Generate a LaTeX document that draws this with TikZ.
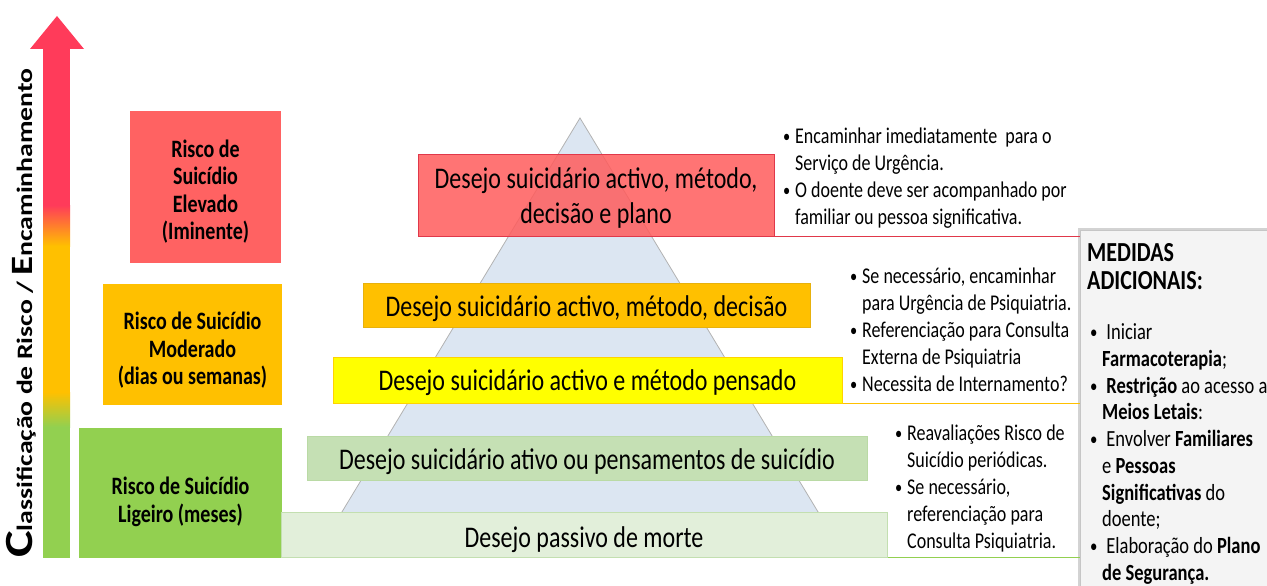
\documentclass[tikz,border=0pt]{standalone}
\usepackage{fontspec}
\usepackage{graphicx}
\setmainfont{Carlito}
\usetikzlibrary{shadows}
\definecolor{arrowred}{HTML}{FF3B5A}
\definecolor{riskred}{HTML}{FF6262}
\definecolor{riskorange}{HTML}{FFC000}
\definecolor{riskgreen}{HTML}{92D050}
\definecolor{pyrblue}{HTML}{DCE6F2}
\definecolor{boxred}{HTML}{FF5C5C}
\definecolor{redline}{HTML}{E0384A}
\definecolor{boxyellow}{HTML}{FFFF00}
\definecolor{boxgreen}{HTML}{C5E0B4}
\definecolor{boxpale}{HTML}{E2EFDA}
\definecolor{paleline}{HTML}{A9D18E}
\newcommand\tallc[2][0pt]{\raisebox{-#1}[\height][\depth]{\scalebox{1}[1.25]{\begin{tabular}{@{}c@{}}#2\end{tabular}}}}
\newcommand\talln[2][300pt]{\scalebox{1}[1.25]{\parbox[t]{#1}{#2}}}
\newcommand\itm[1][0pt]{\par\noindent\hangindent=\dimexpr#1+12pt\relax\hangafter=1\makebox[\dimexpr#1+12pt\relax][l]{\hspace{#1}\raisebox{0.8pt}{\scalebox{0.8}{\textbullet}}}}
\tikzset{
riskbox/.style={rectangle,inner sep=0pt,font=\bfseries\fontsize{20}{22}\selectfont},
layer/.style={rectangle,inner sep=0pt,line width=1pt,font=\fontsize{24}{28}\selectfont},
note/.style={anchor=base west,inner sep=0pt,font=\fontsize{18}{21.6}\selectfont},
link/.style={line width=1.2pt},
}

\begin{document}
\begin{tikzpicture}[x=1pt,y=-1pt]
\useasboundingbox (0,0) rectangle (1267,586);

\fill[arrowred] (30,49) -- (57,16) -- (84,49) -- cycle;
\fill[arrowred] (43,48) rectangle (70,205);
\shade[top color=arrowred,middle color=orange!80!red,bottom color=riskorange] (43,205) rectangle (70,246);
\fill[riskorange] (43,245.5) rectangle (70,392);
\shade[top color=riskorange,bottom color=riskgreen] (43,392) rectangle (70,427);
\fill[riskgreen] (43,426.5) rectangle (70,558);
\node[rotate=90,anchor=base west,inner sep=0pt] (axis) at (32,558)
  {\scalebox{1.26}[1]{\bfseries\fontsize{22}{22}\selectfont{\fontsize{40}{40}\selectfont C}lassificação de Risco / {\fontsize{31}{31}\selectfont E}ncaminhamento}};

\node[riskbox,fill=riskred,minimum width=151pt,minimum height=152pt] (high) at (205.5,187) {\tallc[6pt]{Risco de\\Suicídio\\Elevado\\(Iminente)}};
\node[riskbox,fill=riskorange,minimum width=179pt,minimum height=121pt] (moderate) at (192.5,344.5) {\tallc[7pt]{Risco de Suicídio\\Moderado\\(dias ou semanas)}};
\node[riskbox,fill=riskgreen,minimum width=203pt,minimum height=130pt] (low) at (180.5,493) {\tallc[10pt]{Risco de Suicídio\\Ligeiro (meses)}};

\filldraw[fill=pyrblue,draw=gray!60,line width=0.8pt] (580,118) -- (325,540) -- (835,540) -- cycle;

\node[layer,fill=boxred,fill opacity=0.85,text opacity=1,draw=redline,minimum width=356pt,minimum height=82pt] (plan) at (596,195) {\tallc[4pt]{Desejo suicidário activo, método,\\decisão e plano}};
\node[layer,fill=riskorange,draw=riskorange!90!black!95,minimum width=447pt,minimum height=44pt] (decision) at (586.5,305) {\tallc[4pt]{Desejo suicidário activo, método, decisão}};
\node[layer,fill=boxyellow,draw=riskorange!70!yellow,minimum width=509pt,minimum height=46pt] (method) at (587.5,380) {\tallc[3pt]{Desejo suicidário activo e método pensado}};
\node[layer,fill=boxgreen,draw=paleline!80!white,minimum width=560pt,minimum height=44pt] (thoughts) at (587,458) {\tallc[4pt]{Desejo suicidário ativo ou pensamentos de suicídio}};
\node[layer,fill=boxpale,draw=paleline!70!white,minimum width=606pt,minimum height=45pt] (passive) at (584,534.5) {\tallc[6pt]{Desejo passivo de morte}};

\node[draw=gray!45,fill=gray!9,minimum width=200pt,minimum height=380pt,anchor=north west,inner sep=0pt,
  drop shadow={shadow xshift=-2pt,shadow yshift=2pt,opacity=0.35}] (extra) at (1080,230) {};

\draw[link,redline] (plan.south east) -- (plan.south east -| extra.west);
\draw[link,riskorange] (method.south east) -- (method.south east -| extra.west);
\draw[link,riskgreen] (passive.south east) -- (passive.south east -| extra.west);

\node[note] (urgent) at (783,143) {\talln{\itm Encaminhar imediatamente\ \ para o\newline Serviço de Urgência.\itm O doente deve ser acompanhado por\newline familiar ou pessoa significativa.}};
\node[note] (psych) at (850,283) {\talln{\itm Se necessário, encaminhar\newline para Urgência de Psiquiatria.\itm Referenciação para Consulta\newline Externa de Psiquiatria\itm Necessita de Internamento?}};
\node[note] (review) at (895,440) {\talln{\itm Reavaliações Risco de\newline Suicídio periódicas.\itm Se necessário,\newline referenciação para\newline Consulta Psiquiatria.}};
\node[note,font=\fontsize{18.5}{21.4}\selectfont] (extratext) at (1087,261) {\talln[200pt]{{\bfseries\fontsize{22}{22.4}\selectfont MEDIDAS\newline ADICIONAIS:\par}\vskip19pt
  \itm[3pt] Iniciar\newline\textbf{Farmacoterapia};\itm[3pt] \textbf{Restrição} ao acesso a\newline\textbf{Meios Letais}:\itm[3pt] Envolver \textbf{Familiares}\newline e \textbf{Pessoas}\newline\textbf{Significativas} do\newline doente;\itm[3pt] Elaboração do \textbf{Plano}\newline\textbf{de Segurança.}}};
\end{tikzpicture}
\end{document}
